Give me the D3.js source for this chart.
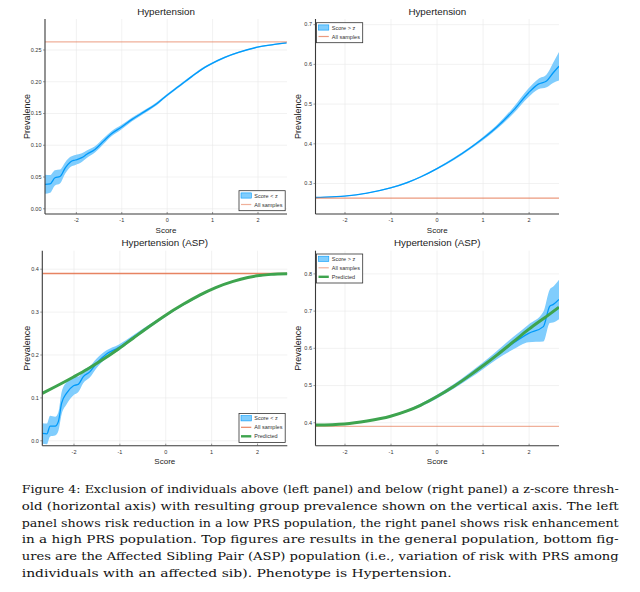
<!DOCTYPE html>
<html>
<head>
<meta charset="utf-8">
<script src="https://cdn.jsdelivr.net/npm/d3@7"></script>
<style>
  body { margin: 0; background: #fff; }
  svg { display: block; }
</style>
</head>
<body>
<div id="chart"></div>
<script>
// ---- data ----
const xTickValues = [-2, -1, 0, 1, 2];
const htnBelowTicks = [0, 0.05, 0.10, 0.15, 0.20, 0.25];
const htnAboveTicks = [0.3, 0.4, 0.5, 0.6, 0.7];
const aspBelowTicks = [0.0, 0.1, 0.2, 0.3, 0.4];
const aspAboveTicks = [0.4, 0.5, 0.6, 0.7, 0.8];

const allSamplesHtn = 0.262;
const allSamplesAsp = 0.389;

// Hypertension, score < z
const htnBelowX = [-2.68, -2.57, -2.46, -2.35, -2.23, -2.12, -2.01, -1.87, -1.76, -1.58, -1.39, -1.21, -1.0, -0.77, -0.48, -0.22, 0, 0.26, 0.55, 0.84, 1.0, 1.28, 1.58, 2.0, 2.31, 2.64];
const htnBelowMean = [0.0377, 0.0383, 0.048, 0.050, 0.064, 0.073, 0.076, 0.0797, 0.085, 0.0927, 0.1057, 0.1177, 0.1276, 0.1396, 0.1526, 0.1646, 0.1776, 0.1917, 0.2073, 0.2219, 0.2281, 0.2375, 0.2453, 0.2536, 0.2573, 0.2604];
const htnBelowHalf = [0.015, 0.014, 0.012, 0.011, 0.009, 0.008, 0.008, 0.007, 0.006, 0.005, 0.0045, 0.004, 0.0035, 0.003, 0.0026, 0.0024, 0.002, 0.002, 0.0018, 0.0016, 0.0015, 0.0013, 0.0012, 0.001, 0.001, 0.001];

// Hypertension, score > z
const htnAboveX = [-2.63, -2.52, -2.0, -1.51, -1.0, -0.64, -0.35, 0, 0.37, 0.73, 1.0, 1.31, 1.67, 2.0, 2.21, 2.39, 2.53, 2.66];
const htnAboveMean = [0.2635, 0.264, 0.2672, 0.2746, 0.2876, 0.301, 0.3151, 0.3357, 0.3606, 0.3883, 0.4113, 0.441, 0.483, 0.5275, 0.549, 0.557, 0.577, 0.594];
const htnAboveHalf = [0.001, 0.001, 0.001, 0.001, 0.0015, 0.002, 0.002, 0.002, 0.003, 0.003, 0.004, 0.005, 0.008, 0.011, 0.013, 0.016, 0.025, 0.036];

// Hypertension (ASP), score < z
const aspBelowX = [-2.68, -2.58, -2.51, -2.40, -2.33, -2.26, -2.15, -2.0, -1.89, -1.79, -1.64, -1.50, -1.28, -1.02, -0.70, -0.33, 0, 0.39, 0.75, 1.05, 1.48, 2.0, 2.35, 2.66];
const aspBelowMean = [0.016, 0.015, 0.033, 0.033, 0.0435, 0.086, 0.11, 0.127, 0.131, 0.148, 0.16, 0.179, 0.201, 0.216, 0.2400, 0.2670, 0.2905, 0.3160, 0.3375, 0.3535, 0.3705, 0.3830, 0.3870, 0.3883];
const aspBelowHalf = [0.024, 0.024, 0.024, 0.022, 0.022, 0.026, 0.026, 0.022, 0.018, 0.015, 0.013, 0.011, 0.009, 0.007, 0.005, 0.004, 0.003, 0.002, 0.002, 0.0015, 0.001, 0.001, 0.001, 0.001];
const aspBelowPredX = [-2.68, -2.4, -2.0, -1.7, -1.42, -1.02, -0.70, -0.35, 0, 0.4, 0.75, 1.1, 1.48, 1.8, 2.0, 2.3, 2.66];
const aspBelowPred = [0.1095, 0.1249, 0.1477, 0.1657, 0.1842, 0.213, 0.238, 0.2653, 0.2912, 0.3176, 0.3386, 0.3561, 0.3705, 0.3795, 0.3835, 0.3868, 0.3882];

// Hypertension (ASP), score > z
const aspAboveX = [-2.63, -2.52, -2.0, -1.51, -1.0, -0.64, -0.35, 0, 0.37, 0.73, 1.0, 1.31, 1.67, 2.0, 2.32, 2.46, 2.53, 2.66];
const aspAboveMean = [0.3925, 0.393, 0.3955, 0.4033, 0.4161, 0.4305, 0.4456, 0.4684, 0.4961, 0.5267, 0.551, 0.5805, 0.613, 0.639, 0.657, 0.712, 0.716, 0.730];
const aspAboveHalf = [0.001, 0.001, 0.001, 0.0015, 0.002, 0.003, 0.004, 0.005, 0.006, 0.008, 0.009, 0.011, 0.017, 0.024, 0.040, 0.045, 0.048, 0.053];
const aspAbovePredX = [-2.63, -2.0, -1.51, -1.0, -0.64, -0.35, 0, 0.37, 0.73, 1.0, 1.31, 1.67, 2.0, 2.39, 2.66];
const aspAbovePred = [0.3925, 0.3955, 0.4033, 0.4161, 0.4305, 0.4456, 0.4684, 0.4961, 0.5267, 0.551, 0.5805, 0.6165, 0.6495, 0.6846, 0.709];

const captionLines = [
    "Figure 4: Exclusion of individuals above (left panel) and below (right panel) a z-score thresh-",
    "old (horizontal axis) with resulting group prevalence shown on the vertical axis.  The left",
    "panel shows risk reduction in a low PRS population, the right panel shows risk enhancement",
    "in a high PRS population.  Top figures are results in the general population, bottom fig-",
    "ures are the Affected Sibling Pair (ASP) population (i.e., variation of risk with PRS among",
    "individuals with an affected sib). Phenotype is Hypertension."
];

// ---- styling ----
const W = 640, H = 592;
const blue = "#009AFA", bandFill = "#80cdfd", red = "#E36F47", green = "#3EA44E";
const sans = "'Liberation Sans', Arial, sans-serif";

const panels = [
    {title: "Hypertension", left: 45, right: 287, top: 19, bottom: 214,
        xDomain: [-2.68, 2.65], yDomain: [-0.009, 0.298], yTicks: htnBelowTicks, yFmt: ".2f",
        x: htnBelowX, mean: htnBelowMean, half: htnBelowHalf, hline: allSamplesHtn, hlineOpacity: 0.55,
        bandLabel: "Score < z", legend: {x: 239, y: 190.7}, ylabelX: 29.5},
    {title: "Hypertension", left: 315.5, right: 559, top: 19, bottom: 214,
        xDomain: [-2.63, 2.66], yDomain: [0.222, 0.713], yTicks: htnAboveTicks, yFmt: ".1f",
        x: htnAboveX, mean: htnAboveMean, half: htnAboveHalf, hline: allSamplesHtn, hlineOpacity: 0.7,
        bandLabel: "Score > z", legend: {x: 316.5, y: 22.7}, ylabelX: 300.5},
    {title: "Hypertension (ASP)", left: 42.3, right: 287.3, top: 250.7, bottom: 445.7,
        xDomain: [-2.68, 2.66], yDomain: [-0.0126, 0.442], yTicks: aspBelowTicks, yFmt: ".1f",
        x: aspBelowX, mean: aspBelowMean, half: aspBelowHalf, hline: allSamplesAsp, hlineOpacity: 0.85,
        predX: aspBelowPredX, pred: aspBelowPred,
        bandLabel: "Score < z", legend: {x: 239, y: 413.5}, ylabelX: 29.5},
    {title: "Hypertension (ASP)", left: 315.5, right: 559, top: 250.7, bottom: 445.7,
        xDomain: [-2.63, 2.66], yDomain: [0.337, 0.861], yTicks: aspAboveTicks, yFmt: ".1f",
        x: aspAboveX, mean: aspAboveMean, half: aspAboveHalf, hline: allSamplesAsp, hlineOpacity: 0.55,
        predX: aspAbovePredX, pred: aspAbovePred,
        bandLabel: "Score > z", legend: {x: 316.5, y: 254}, ylabelX: 300.5}
];

const svg = d3.select("#chart").append("svg")
    .attr("width", W)
    .attr("height", H);

svg.append("rect").attr("width", W).attr("height", H).attr("fill", "#fff");

panels.forEach((p, i) => drawPanel(p, i));
drawCaption();

function drawPanel(p, i) {
    const x = d3.scaleLinear().domain(p.xDomain).range([p.left, p.right]);
    const y = d3.scaleLinear().domain(p.yDomain).range([p.bottom, p.top]);
    const g = svg.append("g");

    g.append("clipPath").attr("id", "clip" + i)
        .append("rect")
        .attr("x", p.left).attr("y", p.top)
        .attr("width", p.right - p.left).attr("height", p.bottom - p.top);

    // grid
    g.append("g")
        .attr("transform", "translate(0," + p.bottom + ")")
        .call(d3.axisBottom(x).tickValues(xTickValues).tickSize(-(p.bottom - p.top)).tickFormat(""))
        .call(a => a.select(".domain").remove())
        .selectAll("line").attr("stroke", "#e9e9e9").attr("stroke-width", 0.6);
    g.append("g")
        .attr("transform", "translate(" + p.left + ",0)")
        .call(d3.axisLeft(y).tickValues(p.yTicks).tickSize(-(p.right - p.left)).tickFormat(""))
        .call(a => a.select(".domain").remove())
        .selectAll("line").attr("stroke", "#e9e9e9").attr("stroke-width", 0.6);

    const pts = p.x.map((v, k) => ({x: v, m: p.mean[k], h: p.half[k]}));
    const plot = g.append("g").attr("clip-path", "url(#clip" + i + ")");

    plot.append("path")
        .datum(pts)
        .attr("fill", bandFill)
        .attr("d", d3.area()
            .curve(d3.curveMonotoneX)
            .x(d => x(d.x))
            .y0(d => y(d.m - d.h))
            .y1(d => y(d.m + d.h)));

    plot.append("path")
        .datum(pts)
        .attr("fill", "none")
        .attr("stroke", blue)
        .attr("stroke-width", 1.3)
        .attr("d", d3.line().curve(d3.curveMonotoneX).x(d => x(d.x)).y(d => y(d.m)));

    plot.append("line")
        .attr("x1", p.left).attr("x2", p.right)
        .attr("y1", y(p.hline)).attr("y2", y(p.hline))
        .attr("stroke", red)
        .attr("stroke-opacity", p.hlineOpacity)
        .attr("stroke-width", 1.4);

    if (p.pred) {
        plot.append("path")
            .datum(p.predX.map((v, k) => [v, p.pred[k]]))
            .attr("fill", "none")
            .attr("stroke", green)
            .attr("stroke-width", 3)
            .attr("d", d3.line().curve(d3.curveMonotoneX).x(d => x(d[0])).y(d => y(d[1])));
    }

    // axes
    const xAxis = g.append("g")
        .attr("transform", "translate(0," + p.bottom + ")")
        .call(d3.axisBottom(x).tickValues(xTickValues).tickSize(-2).tickPadding(4.5).tickFormat(d => String(d)));
    const yAxis = g.append("g")
        .attr("transform", "translate(" + p.left + ",0)")
        .call(d3.axisLeft(y).tickValues(p.yTicks).tickSize(2).tickPadding(1.5).tickFormat(d3.format(p.yFmt)));

    [xAxis, yAxis].forEach(a => {
        a.select(".domain").attr("stroke", "#3a3a3a").attr("stroke-width", 1.1);
        a.selectAll(".tick line").attr("stroke", "#555").attr("stroke-width", 0.6);
        a.selectAll("text").attr("font-family", sans).attr("font-size", 5.5).attr("fill", "#333");
    });
    // only the axis line itself, no end caps
    xAxis.select(".domain").attr("d", "M" + p.left + ",0H" + p.right);
    yAxis.select(".domain").attr("d", "M0," + p.bottom + "V" + p.top);

    // labels
    g.append("text")
        .attr("x", (p.left + p.right) / 2).attr("y", p.top - 4.5)
        .attr("text-anchor", "middle")
        .attr("font-family", sans).attr("font-size", 9.8).attr("fill", "#222")
        .text(p.title);

    g.append("text")
        .attr("x", (p.left + p.right) / 2).attr("y", p.bottom + 18.6)
        .attr("text-anchor", "middle")
        .attr("font-family", sans).attr("font-size", 8).attr("fill", "#222")
        .text("Score");

    g.append("text")
        .attr("transform", "translate(" + p.ylabelX + "," + ((p.top + p.bottom) / 2) + ") rotate(-90)")
        .attr("text-anchor", "middle")
        .attr("font-family", sans).attr("font-size", 9).attr("fill", "#222")
        .text("Prevalence");

    drawLegend(g, p);
}

function drawLegend(g, p) {
    const entries = [{label: p.bandLabel, kind: "band"}, {label: "All samples", kind: "line"}];
    if (p.pred) entries.push({label: "Predicted", kind: "pred"});

    const bx = p.legend.x, by = p.legend.y, bw = 46.2, bh = entries.length * 9 + 2;
    const lg = g.append("g");
    lg.append("rect")
        .attr("x", bx).attr("y", by).attr("width", bw).attr("height", bh)
        .attr("fill", "#fff").attr("stroke", "#333").attr("stroke-width", 0.8);

    const row = lg.selectAll("g.row")
        .data(entries)
        .enter().append("g")
        .attr("class", "row")
        .attr("transform", (d, k) => "translate(" + bx + "," + (by + 4.8 + k * 9) + ")");

    row.filter(d => d.kind === "band").append("rect")
        .attr("x", 2).attr("y", -2.6).attr("width", 10.3).attr("height", 5.2)
        .attr("fill", bandFill).attr("stroke", blue).attr("stroke-width", 0.6);
    row.filter(d => d.kind === "line").append("line")
        .attr("x1", 2).attr("x2", 12.3)
        .attr("stroke", red).attr("stroke-opacity", p.hlineOpacity).attr("stroke-width", 1.2);
    row.filter(d => d.kind === "pred").append("line")
        .attr("x1", 2).attr("x2", 12.3)
        .attr("stroke", green).attr("stroke-width", 2.4);

    row.append("text")
        .attr("x", 15.3).attr("y", 2)
        .attr("font-family", sans).attr("font-size", 5.5).attr("fill", "#333")
        .text(d => d.label);
}

function drawCaption() {
    const left = 21.7, full = 597, lastWidth = 430;
    const cap = svg.append("g")
        .attr("font-family", "'DejaVu Serif', 'Liberation Serif', serif")
        .attr("font-size", 11.6)
        .attr("fill", "#111");
    cap.selectAll("text")
        .data(captionLines)
        .enter().append("text")
        .attr("x", left)
        .attr("y", (d, k) => 493.3 + k * 16.7)
        .attr("textLength", (d, k) => k === captionLines.length - 1 ? lastWidth : full)
        .attr("lengthAdjust", "spacingAndGlyphs")
        .text(d => d);
}
</script>
</body>
</html>
